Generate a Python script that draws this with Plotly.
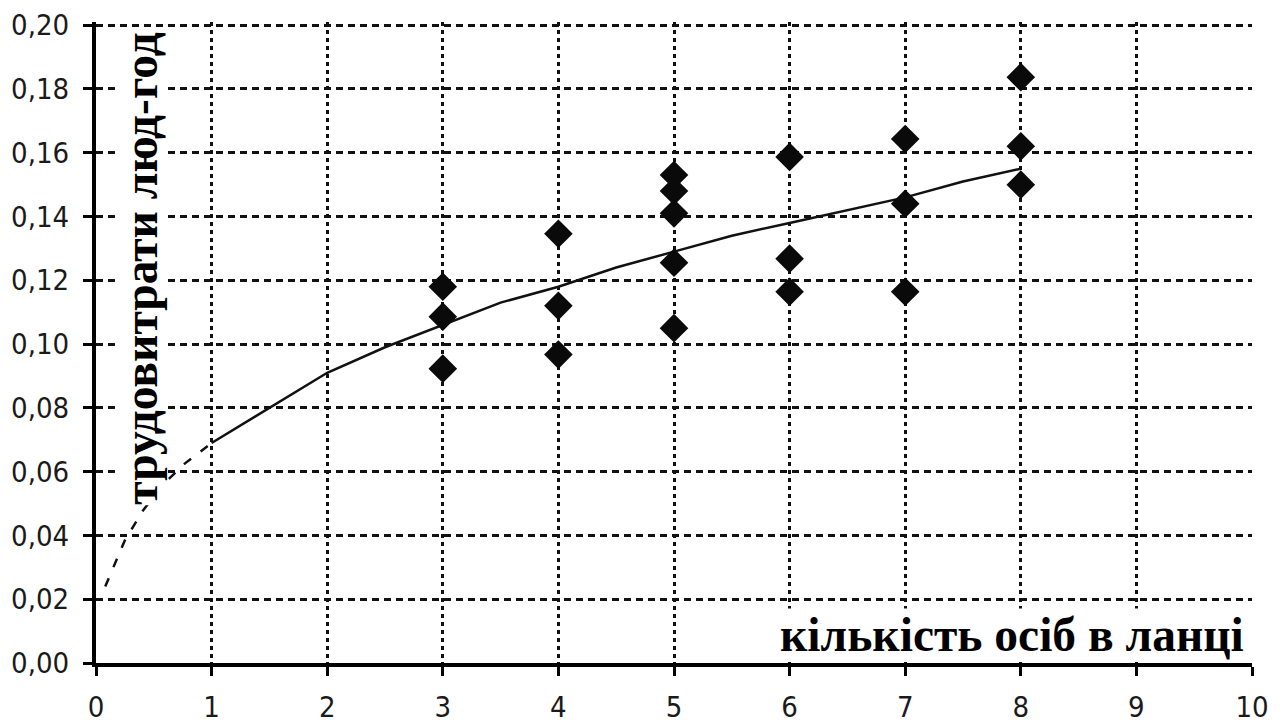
import plotly.graph_objects as go

# observed points (кількість осіб, трудовитрати)
obs_x = [3, 3, 3, 4, 4, 4, 5, 5, 5, 5, 5, 6, 6, 6, 7, 7, 7, 8, 8, 8]
obs_y = [0.118, 0.1086, 0.0923, 0.1346, 0.112, 0.0967,
         0.153, 0.148, 0.141, 0.1255, 0.105,
         0.1587, 0.1268, 0.1164,
         0.1643, 0.144, 0.1164,
         0.1837, 0.162, 0.150]

# trend line: extrapolated (dashed) and fitted (solid) parts
trend_ext_x = [0.08, 0.25, 0.41, 0.58, 0.77, 1.0]
trend_ext_y = [0.024, 0.0385, 0.048, 0.056, 0.0626, 0.069]
trend_x = [1.0, 1.5, 2.0, 2.5, 3.0, 3.5, 4.0, 4.5, 5.0, 5.5, 6.0, 6.5, 7.0, 7.5, 8.0]
trend_y = [0.069, 0.080, 0.091, 0.099, 0.106, 0.113, 0.118, 0.124, 0.129,
           0.134, 0.138, 0.142, 0.146, 0.151, 0.155]

x_ticks = list(range(0, 11))
y_ticks = [0.00, 0.02, 0.04, 0.06, 0.08, 0.10, 0.12, 0.14, 0.16, 0.18, 0.20]
y_tick_labels = ["0,00", "0,02", "0,04", "0,06", "0,08", "0,10",
                 "0,12", "0,14", "0,16", "0,18", "0,20"]

x_title = "кількість осіб в ланці"
y_title = "трудовитрати люд-год"

fig = go.Figure()
fig.add_trace(go.Scatter(x=trend_ext_x, y=trend_ext_y, mode="lines",
                         line=dict(color="#111", width=2.5, dash="9px,12px"),
                         showlegend=False, hoverinfo="skip"))
fig.add_trace(go.Scatter(x=trend_x, y=trend_y, mode="lines",
                         line=dict(color="#111", width=2.5),
                         showlegend=False))
fig.add_trace(go.Scatter(x=obs_x, y=obs_y, mode="markers",
                         marker=dict(symbol="diamond", size=22, color="#0a0a0a"),
                         showlegend=False))

tick_font = dict(family="DejaVu Sans Condensed, DejaVu Sans", size=29, color="#1a1a1a")
grid_h = dict(color="#111", width=2.5, dash="7px,5px")

fig.update_layout(
    width=1284, height=725,
    margin=dict(l=88, r=40, t=14, b=70),
    paper_bgcolor="white", plot_bgcolor="white",
    xaxis=dict(range=[0, 10], tickvals=x_ticks, ticktext=[str(v) for v in x_ticks],
               showgrid=True, gridcolor="#111", gridwidth=2.5, griddash="4px,4px",
               showline=True, linecolor="#000", linewidth=4,
               ticks="outside", ticklen=9, tickwidth=3, tickcolor="#000",
               tickfont=tick_font, ticklabelstandoff=6, zeroline=False,
               automargin=False, ticklabeloverflow="allow"),
    yaxis=dict(range=[0, 0.201], tickvals=y_ticks, ticktext=y_tick_labels,
               showgrid=True, gridcolor="#111", gridwidth=2.5, griddash="7px,5px",
               showline=True, linecolor="#000", linewidth=4,
               ticks="outside", ticklen=9, tickwidth=3, tickcolor="#000",
               tickfont=tick_font, ticklabelstandoff=8, zeroline=False,
               automargin=False, ticklabeloverflow="allow"),
    shapes=[
        dict(type="line", xref="x", yref="y", x0=x_ticks[0], x1=x_ticks[-1],
             y0=y_ticks[-1], y1=y_ticks[-1], line=grid_h, layer="above"),
    ],
    annotations=[
        dict(text="<b>" + y_title + "</b>", xref="paper", yref="paper",
             x=0.039, y=0.985, xanchor="center", yanchor="top", textangle=-90,
             showarrow=False, bgcolor="white", borderpad=0,
             font=dict(family="Liberation Serif", size=47.5, color="#000")),
        dict(text="<b>" + x_title + "</b>", xref="paper", yref="paper",
             x=0.994, y=0.044, xanchor="right", yanchor="middle",
             showarrow=False, bgcolor="white", borderpad=0,
             font=dict(family="Liberation Serif", size=47.5, color="#000")),
    ],
)

fig.write_html("out.html")
